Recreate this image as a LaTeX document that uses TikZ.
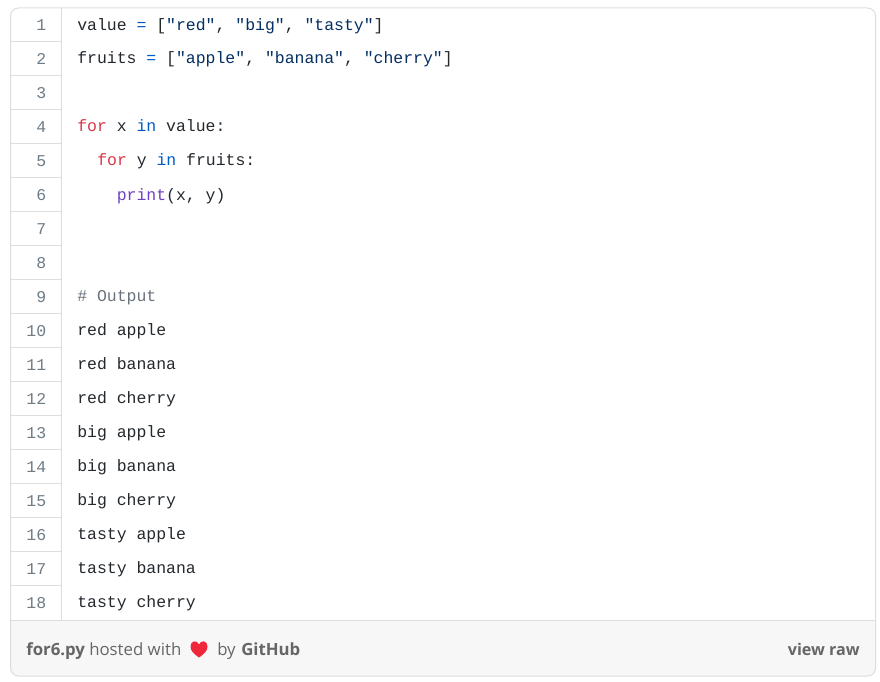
\documentclass[tikz,border=0pt]{standalone}
\usepackage{fontspec}
\setmainfont{Open Sans}
\setmonofont{Liberation Mono}
\usetikzlibrary{positioning}
\definecolor{gistline}{HTML}{DDDDDD}
\definecolor{gistfoot}{HTML}{F7F7F7}
\definecolor{gistnum}{HTML}{6E7C86}
\definecolor{gisttext}{HTML}{24292E}
\definecolor{gistkey}{HTML}{D73A49}
\definecolor{gistblue}{HTML}{005CC5}
\definecolor{giststr}{HTML}{032F62}
\definecolor{gistfun}{HTML}{6F42C1}
\definecolor{gistnote}{HTML}{6A737D}
\definecolor{gistsoft}{HTML}{666666}
\definecolor{gistheart}{HTML}{F0263A}
\newcommand{\kw}[1]{\textcolor{gistkey}{#1}}
\newcommand{\bl}[1]{\textcolor{gistblue}{#1}}
\newcommand{\st}[1]{\textcolor{giststr}{#1}}
\tikzset{
  codeline/.style={anchor=base west, inner sep=0pt, text=gisttext, font=\ttfamily\fontsize{12.35}{14}\selectfont},
  linenum/.style={anchor=base east, inner sep=0pt, text=gistnum, font=\ttfamily\fontsize{12.35}{14}\selectfont},
  foottext/.style={anchor=base west, inner sep=0pt, text=gistsoft, font=\fontsize{12.6}{15}\selectfont},
  footbold/.style={foottext, font=\bfseries\fontsize{12.6}{15}\selectfont},
  rowline/.style={draw=gistline, line width=0.75pt}
}
\begin{document}
\begin{tikzpicture}[x=0.75pt, y=-0.75pt]
        \useasboundingbox (0,0) rectangle (880,681);
        % card and footer
        \fill [white, rounded corners=6pt] (10.5,8) rectangle (875.5,676);
        \fill [gistfoot, rounded corners=6pt] (10.5,650) -- (10.5,676) -- (875.5,676) -- (875.5,650) [sharp corners] -- (875.5,620.5) -- (10.5,620.5) -- cycle;
        % table rules
        \foreach \r in {1,...,17}
            \draw [rowline] (10.5,7.5+34*\r) -- (61.5,7.5+34*\r);
        \draw [rowline] (61.5,8) -- (61.5,620.5);
        \draw [rowline] (10.5,620.5) -- (875.5,620.5);
        \draw [rowline, rounded corners=6pt] (10.5,8) rectangle (875.5,676);
        % line numbers
        \foreach \r in {1,...,18}
            \node [linenum] (n\r) at (46.5,-3.6+34*\r) {\r};

        \node [codeline] (l1) at (77,31) {value \bl{=} [\st{"red"}, \st{"big"}, \st{"tasty"}]};
        \node [codeline] (l2) at (77,64) {fruits \bl{=} [\st{"apple"}, \st{"banana"}, \st{"cherry"}]};
        \node [codeline] (l4) at (77,132) {\kw{for} x \bl{in} value:};
        \node [codeline] (l5) at (97,166) {\kw{for} y \bl{in} fruits:};
        \node [codeline] (l6) at (116.5,200) {\textcolor{gistfun}{print}(x, y)};
        \node [codeline, text=gistnote] (l9) at (77,301.5) {\# Output};
        \node [codeline] (l10) at (77,335.5) {red apple};
        \node [codeline] (l11) at (77,369.5) {red banana};
        \node [codeline] (l12) at (77,403.5) {red cherry};
        \node [codeline] (l13) at (77,437.5) {big apple};
        \node [codeline] (l14) at (77,471.5) {big banana};
        \node [codeline] (l15) at (77,505.5) {big cherry};
        \node [codeline] (l16) at (77,539.5) {tasty apple};
        \node [codeline] (l17) at (77,573.5) {tasty banana};
        \node [codeline] (l18) at (77,607.5) {tasty cherry};

        % footer
        \node [footbold] (file) at (26,655) {for6.py};
        \node [foottext] (host) at (89,655) {hosted with};
        \fill [gistheart] (199,657.5) .. controls (194,654) and (190.5,651) .. (190.5,646.5)
            .. controls (190.5,640.5) and (197,639.5) .. (199,644.5)
            .. controls (201,639.5) and (207.5,640.5) .. (207.5,646.5)
            .. controls (207.5,651) and (204,654) .. (199,657.5) -- cycle;
        \node [foottext] (by) at (217,655) {by};
        \node [footbold] (hub) at (241,655) {GitHub};
        \node [footbold, anchor=base east, font=\bfseries\fontsize{12.1}{15}\selectfont] (raw) at (860,655) {view raw};
\end{tikzpicture}
\end{document}
